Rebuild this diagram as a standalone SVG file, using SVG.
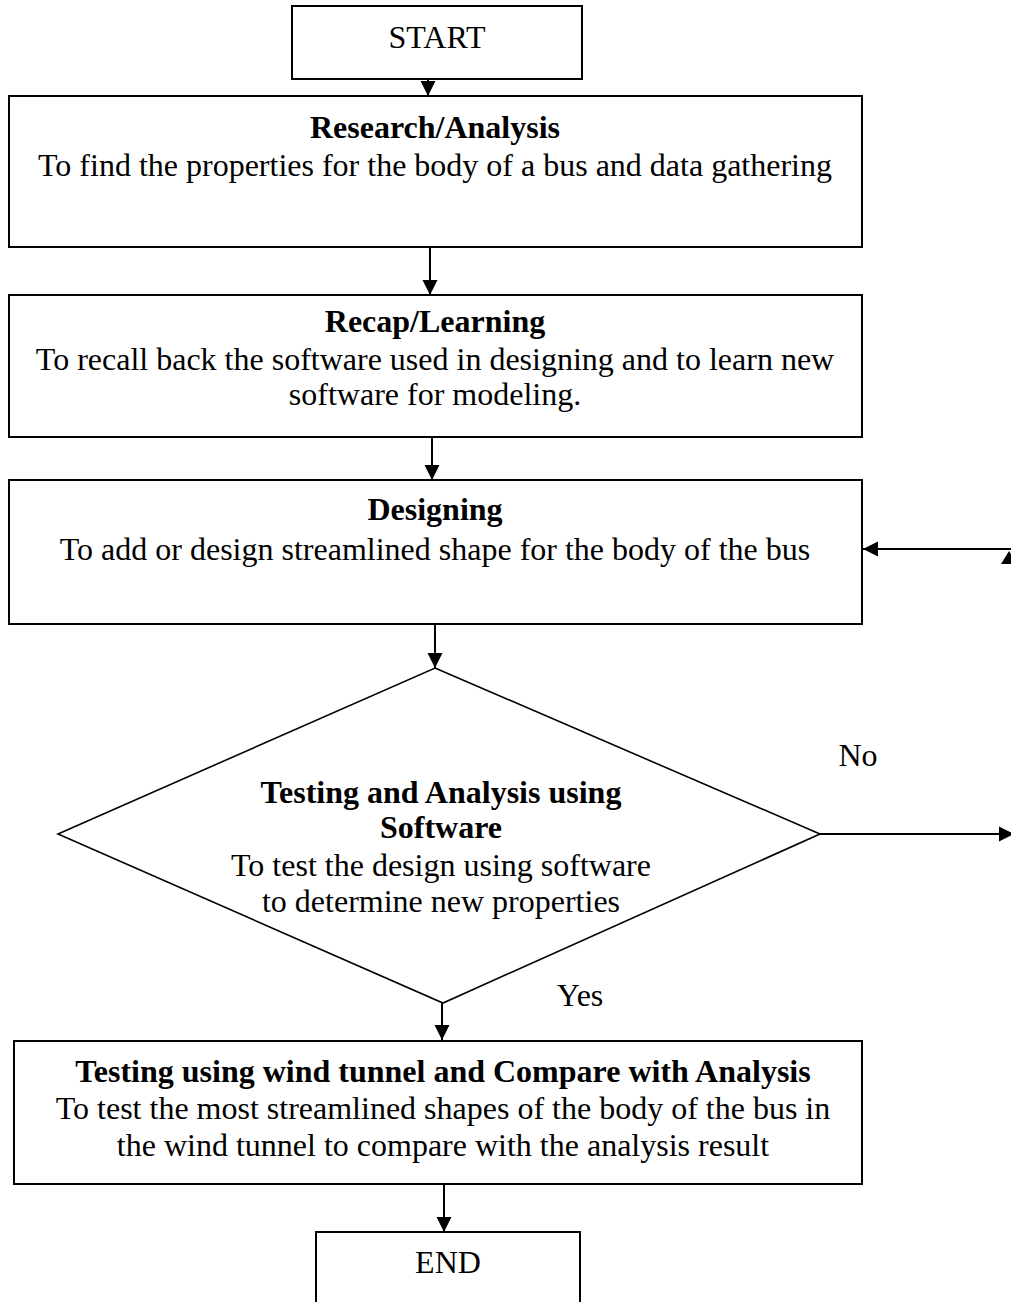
<svg xmlns="http://www.w3.org/2000/svg" width="1011" height="1302" viewBox="0 0 1011 1302">
<defs>
<style>
.box{fill:#fff;stroke:#000;stroke-width:2}
.dia{fill:#fff;stroke:#000;stroke-width:1.6}
.t{font-family:"Liberation Serif","Times New Roman",serif;font-size:32px;fill:#000;text-anchor:middle}
.b{font-weight:bold}
.c{stroke:#000;stroke-width:2;fill:none}
</style>
<marker id="ah" markerUnits="userSpaceOnUse" markerWidth="15" markerHeight="16" viewBox="0 0 15 16" refX="15" refY="8" orient="auto">
<path d="M0,0.5 L15,8 L0,15.5 Z" fill="#000"/>
</marker>
</defs>
<rect width="1011" height="1302" fill="#fff"/>
<g id="connectors">
<line class="c" x1="428" y1="79" x2="428" y2="96" marker-end="url(#ah)"/>
<line class="c" x1="430" y1="247" x2="430" y2="295" marker-end="url(#ah)"/>
<line class="c" x1="432" y1="437" x2="432" y2="480" marker-end="url(#ah)"/>
<line class="c" x1="435" y1="624" x2="435" y2="668" marker-end="url(#ah)"/>
<line class="c" x1="442" y1="1003" x2="442" y2="1040" marker-end="url(#ah)"/>
<line class="c" x1="444" y1="1184" x2="444" y2="1232" marker-end="url(#ah)"/>
<line class="c" x1="1011" y1="549" x2="863" y2="549" marker-end="url(#ah)"/>
<line class="c" x1="820" y1="834" x2="1014" y2="834" marker-end="url(#ah)"/>
<polygon points="1001,564 1009,551 1017,564" fill="#000"/>
<text class="t" x="858" y="766">No</text>
<text class="t" x="580" y="1006">Yes</text>
</g>
<g id="start">
<rect class="box" x="292" y="6" width="290" height="73"/>
<text class="t" x="437" y="48">START</text>
</g>
<g id="research">
<rect class="box" x="9" y="96" width="853" height="151"/>
<text class="t b" x="435" y="138">Research/Analysis</text>
<text class="t" x="435" y="176">To find the properties for the body of a bus and data gathering</text>
</g>
<g id="recap">
<rect class="box" x="9" y="295" width="853" height="142"/>
<text class="t b" x="435" y="332">Recap/Learning</text>
<text class="t" x="435" y="370">To recall back the software used in designing and to learn new</text>
<text class="t" x="435" y="405">software for modeling.</text>
</g>
<g id="designing">
<rect class="box" x="9" y="480" width="853" height="144"/>
<text class="t b" x="435" y="520">Designing</text>
<text class="t" x="435" y="560">To add or design streamlined shape for the body of the bus</text>
</g>
<g id="decision">
<polygon class="dia" points="435,668 820,834 443,1003 58,834"/>
<text class="t b" x="441" y="803">Testing and Analysis using</text>
<text class="t b" x="441" y="838">Software</text>
<text class="t" x="441" y="876">To test the design using software</text>
<text class="t" x="441" y="912">to determine new properties</text>
</g>
<g id="windtunnel">
<rect class="box" x="14" y="1041" width="848" height="143"/>
<text class="t b" x="443" y="1082">Testing using wind tunnel and Compare with Analysis</text>
<text class="t" x="443" y="1119">To test the most streamlined shapes of the body of the bus in</text>
<text class="t" x="443" y="1156">the wind tunnel to compare with the analysis result</text>
</g>
<g id="end">
<rect class="box" x="316" y="1232" width="264" height="80"/>
<text class="t" x="448" y="1273">END</text>
</g>
</svg>
